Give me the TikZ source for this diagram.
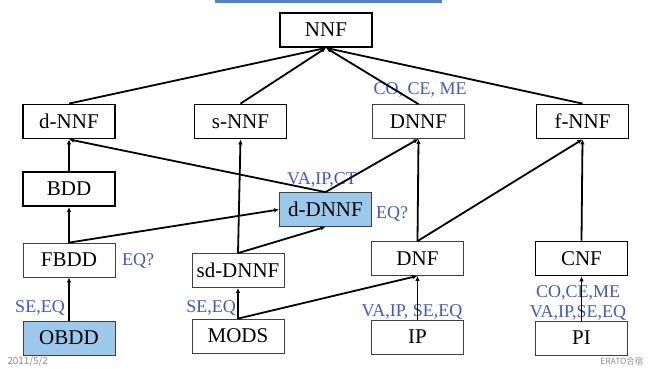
\documentclass[tikz,border=0pt]{standalone}
\usepackage{fontspec}
\setmainfont{Liberation Serif}
\newfontfamily\cjk{Noto Sans CJK JP}
\usepackage{tikz}
\usetikzlibrary{arrows.meta}
\definecolor{lblue}{RGB}{68,88,184}
\definecolor{bfill}{RGB}{155,200,235}
\definecolor{bar}{RGB}{84,130,200}
\tikzstyle{box}=[draw, line width=1.8pt, minimum width=92pt, minimum height=34pt, inner sep=0pt, font=\fontsize{21}{21}\selectfont]
\tikzstyle{tbox}=[box, draw=black!75, line width=0.8pt]
\tikzstyle{op}=[text=lblue, inner sep=0pt, font=\fontsize{18}{18}\selectfont]
\tikzstyle{imp}=[-{Latex[length=5pt,width=4.5pt]}, line width=1.8pt]

\begin{document}
\begin{tikzpicture}[x=1pt, y=-1pt]
        \useasboundingbox (0,0) rectangle (648,369);
        \fill[bar] (215,0) rectangle (442,3);
        % upper row
        \node[box] (nnf) at (326, 30) {NNF};
        \node[box] (dnnf) at (69, 121.5) {d-NNF};
        \node[box] (snnf) at (240.5, 121.5) {s-NNF};
        \node[tbox] (DNNF) at (418.5, 121.5) {DNNF};
        \node[box] (fnnf) at (582.5, 121.5) {f-NNF};
        % middle
        \node[box] (bdd) at (69, 189) {BDD};
        \node[tbox, fill=bfill] (ddnnf) at (325.5, 209.5) {d-DNNF};
        \node[tbox] (fbdd) at (69, 260) {FBDD};
        \node[tbox] (sddnnf) at (238, 270.5) {sd-DNNF};
        \node[tbox] (dnf) at (417.5, 258.5) {DNF};
        \node[box] (cnf) at (581.5, 258.5) {CNF};
        % bottom row
        \node[tbox, fill=bfill] (obdd) at (69, 338) {OBDD};
        \node[tbox] (mods) at (238, 336) {MODS};
        \node[tbox] (ip) at (417.5, 337) {IP};
        \node[tbox] (pi) at (581.5, 338) {PI};
        % queries
        \node[op] (qDNNF) at (420, 90) {CO, CE, ME};
        \node[op] (qddnnf) at (322, 180) {VA,IP,CT};
        \node[op] (eqddnnf) at (392, 214) {EQ?};
        \node[op] (eqfbdd) at (138, 261) {EQ?};
        \node[op] (qobdd) at (40, 308) {SE,EQ};
        \node[op] (qmods) at (211, 308) {SE,EQ};
        \node[op] (qip) at (412, 312) {VA,IP, SE,EQ};
        \node[op] (qpi1) at (578, 293) {CO,CE,ME};
        \node[op] (qpi2) at (578, 313) {VA,IP,SE,EQ};
        % footer
        \node[anchor=west, text=black!45, font=\fontsize{9.8}{9.8}\cjk] (date) at (4, 361) {2011/5/2};
        \node[anchor=east, text=black!45, font=\fontsize{8.5}{8.5}\cjk] (erato) at (647, 361) {ERATO合宿};
        % arrows
        \draw[imp] (dnnf.north) -- (nnf.south);
        \draw[imp] (snnf.north) -- (nnf.south);
        \draw[imp] (DNNF.north) -- (nnf.south);
        \draw[imp] (fnnf.north) -- (nnf.south);
        \draw[imp] (bdd.north) -- (dnnf.south);
        \draw[imp] (ddnnf.north) -- (dnnf.south);
        \draw[imp] (ddnnf.north) -- (DNNF.south);
        \draw[imp] (fbdd.north) -- (bdd.south);
        \draw[imp] (fbdd.north) -- (ddnnf.west);
        \draw[imp] (sddnnf.north) -- (snnf.south);
        \draw[imp] (sddnnf.north) -- (ddnnf.south);
        \draw[imp] (dnf.north) -- (DNNF.south);
        \draw[imp] (dnf.north) -- (fnnf.south);
        \draw[imp] (cnf.north) -- (fnnf.south);
        \draw[imp] (obdd.north) -- (fbdd.south);
        \draw[imp] (mods.north) -- (sddnnf.south);
        \draw[imp] (mods.north) -- (dnf.south);
        \draw[imp] (ip.north) -- (dnf.south);
        \draw[-{Latex[length=5pt,width=4.5pt]}, line width=0.9pt] (pi.north) -- (cnf.south);
\end{tikzpicture}
\end{document}
